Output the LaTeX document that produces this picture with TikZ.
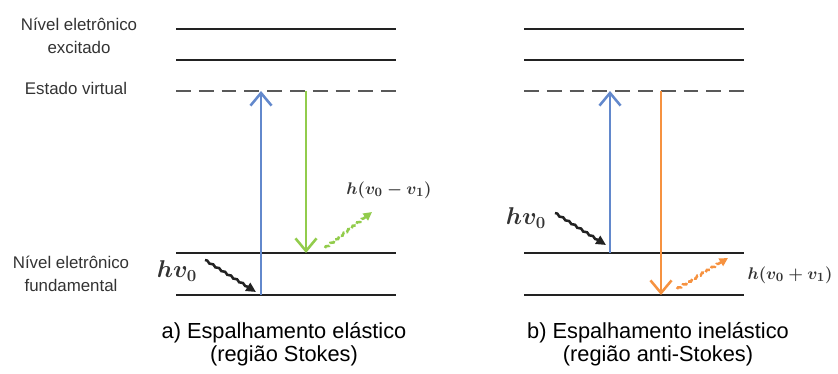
\documentclass[tikz,border=0pt]{standalone}
\usepackage{amsmath,amssymb}
\usepackage{fontspec}
\setmainfont{Liberation Sans}
\usetikzlibrary{arrows.meta,decorations.pathmorphing}
\definecolor{pumpcolor}{RGB}{98,136,204}
\definecolor{stokescolor}{RGB}{146,204,76}
\definecolor{antistokescolor}{RGB}{246,146,64}
\definecolor{levelcolor}{RGB}{34,34,34}

\begin{document}
\begin{tikzpicture}[
    x=0.025cm, y=-0.025cm,
    levelline/.style={levelcolor, line width=2.1pt},
    virtualline/.style={black!65, line width=1.4pt, dash pattern=on 10.5pt off 5.72pt},
    pump/.style={line width=2pt, -{Straight Barb[length=9pt,width=15pt,line width=1.8pt]}},
    photon/.style={levelcolor, line width=1.8pt, decorate,
        decoration={snake, amplitude=.5pt, segment length=5pt, post length=7pt},
        -{Triangle[length=7pt,width=6.5pt]}},
    scatterarrow/.style={line width=1.8pt, dash pattern=on 4pt off 1.5pt, decorate,
        decoration={snake, amplitude=.6pt, segment length=4pt, post length=6pt},
        -{Triangle[length=6pt,width=6pt]}},
    lbl/.style={text=black!80, font=\fontsize{12}{16}\selectfont, align=center},
    capbox/.style={font=\fontsize{15.5}{16.5}\selectfont, align=center},
    energylbl/.style={text=black!80, font=\fontsize{17}{20}\selectfont\boldmath},
    shiftlbl/.style={text=black!80, font=\fontsize{13}{15}\selectfont\boldmath}
]
\useasboundingbox (0,0) rectangle (838,374);

% Level labels
\node[lbl] (lexc) at (79,36) {N\'ivel eletr\^onico\\excitado};
\node[lbl] (lvir) at (76,88) {Estado virtual};
\node[lbl] (lfun) at (71,274) {N\'ivel eletr\^onico\\fundamental};

% Elastic side
\draw[levelline] (176,29) -- (396,29);
\draw[levelline] (176,60) -- (396,60);
\draw[virtualline] (176,91) -- (396,91);
\draw[levelline] (176,253) -- (396,253);
\draw[levelline] (176,295) -- (396,295);

\coordinate (abot) at (261,295);
\coordinate (atop) at (261,91);
\coordinate (gtop) at (306,91);
\coordinate (gbot) at (306,253);
\coordinate (ain) at (205,260);
\coordinate (ainend) at (256,292);
\coordinate (aout) at (325,248);
\coordinate (aoutend) at (372,212);

\node[energylbl] (hva) at (177,271) {$hv_0$};
\node[shiftlbl] (sa) at (389,190) {$h(v_0-v_1)$};

\draw[pump, pumpcolor] (abot) -- (atop);
\draw[pump, stokescolor] (gtop) -- (gbot);
\draw[photon] (ain) -- (ainend);
\draw[scatterarrow, stokescolor] (aout) -- (aoutend);

\node[capbox] (capa) at (284,344) {a) Espalhamento el\'astico\\(regi\~ao Stokes)};

% Inelastic side
\draw[levelline] (524,29) -- (744,29);
\draw[levelline] (524,60) -- (744,60);
\draw[virtualline] (524,91) -- (744,91);
\draw[levelline] (524,253) -- (744,253);
\draw[levelline] (524,295) -- (744,295);

\coordinate (bbot) at (610,253);
\coordinate (btop) at (610,91);
\coordinate (otop) at (661,91);
\coordinate (obot) at (661,295);
\coordinate (bin) at (555,213);
\coordinate (binend) at (606,245);
\coordinate (bout) at (677,289);
\coordinate (boutend) at (728,258);

\node[energylbl] (hvb) at (526,218) {$hv_0$};
\node[shiftlbl] (sb) at (790,275) {$h(v_0+v_1)$};

\draw[pump, pumpcolor] (bbot) -- (btop);
\draw[pump, antistokescolor] (otop) -- (obot);
\draw[photon] (bin) -- (binend);
\draw[scatterarrow, antistokescolor] (bout) -- (boutend);

\node[capbox] (capb) at (658,344) {b) Espalhamento inel\'astico\\(regi\~ao anti-Stokes)};

\end{tikzpicture}
\end{document}
